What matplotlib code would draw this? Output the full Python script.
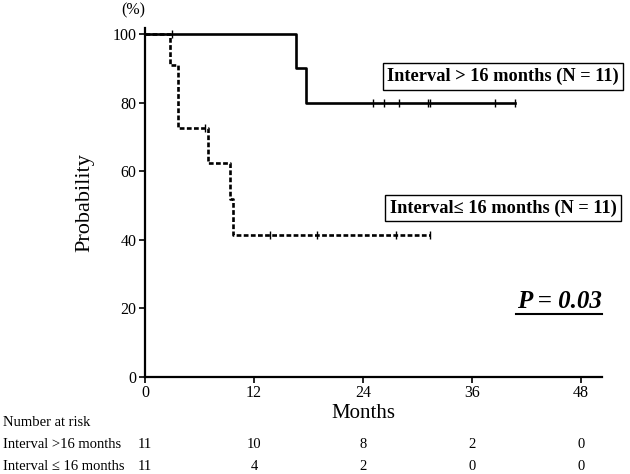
import matplotlib
matplotlib.use("Agg")
import matplotlib.pyplot as plt
import matplotlib.transforms as mtransforms

plt.rcParams['font.family'] = ['Liberation Serif', 'DejaVu Serif']

# Data
long_times = [0, 16.6, 17.7, 40.7]
long_surv = [100, 90, 80, 80]
long_cens_t = [25.1, 26.3, 28.0, 31.2, 31.4, 38.5, 40.7]
long_cens_y = [80, 80, 80, 80, 80, 80, 80]

short_times = [0, 2.8, 3.6, 6.9, 9.4, 9.7, 31.4]
short_surv = [100, 90.9, 72.7, 62.3, 51.9, 41.5, 41.5]
short_cens_t = [3.0, 6.6, 13.8, 18.9, 27.6, 31.4]
short_cens_y = [100, 72.7, 41.5, 41.5, 41.5, 41.5]

xticks = [0, 12, 24, 36, 48]
yticks = [0, 20, 40, 60, 80, 100]
risk_rows = ["Interval >16 months", "Interval \u2264 16 months"]
risk_long = [11, 10, 8, 2, 0]
risk_short = [11, 4, 2, 0, 0]

W, H = 630, 474
fig = plt.figure(figsize=(6.3, 4.74), dpi=100)
ax = fig.add_axes([145 / W, 1 - 376.7 / H, (601.7 - 145) / W, (376.7 - 28) / H])
ax.set_xlim(0, 50.3)
ax.set_ylim(0, 101.8)

ax.plot(long_times, long_surv, drawstyle='steps-post', color='black', lw=1.9)
ax.plot(short_times, short_surv, drawstyle='steps-post', color='black', lw=1.9,
        linestyle=(0, (1.8, 0.9)))
ax.plot(long_cens_t, long_cens_y, linestyle='none', marker='|', color='black', ms=5.5, mew=1.0)
ax.plot(short_cens_t, short_cens_y, linestyle='none', marker='|', color='black', ms=5.5, mew=1.0)

for s in ['top', 'right']:
    ax.spines[s].set_visible(False)
for s in ['left', 'bottom']:
    ax.spines[s].set_linewidth(1.6)
ax.set_xticks(xticks)
ax.set_yticks(yticks)
ax.tick_params(direction='out', length=4, width=1.2, labelsize=11.5, pad=2)

fig.text(85 / W, 1 - 203 / H, "Probability", rotation=90, ha='center', va='center', fontsize=16)
fig.text(133 / W, 1 - 10 / H, "(%)", ha='center', va='center', fontsize=11.5)

trans = mtransforms.blended_transform_factory(ax.transData, fig.transFigure)
ax.text(24, 1 - 413 / H, "Months", transform=trans, ha='center', va='center', fontsize=15)

fig.text(3 / W, 1 - 423 / H, "Number at risk", ha='left', va='center', fontsize=10.5)
for row_y, label, vals in [(445, risk_rows[0], risk_long), (466, risk_rows[1], risk_short)]:
    fig.text(3 / W, 1 - row_y / H, label, ha='left', va='center', fontsize=10.5)
    for xt, v in zip(xticks, vals):
        ax.text(xt, 1 - row_y / H, str(v), transform=trans, ha='center', va='center', fontsize=10.5)

box = dict(boxstyle='square,pad=0.25', facecolor='white', edgecolor='black', lw=1.0)
fig.text(503 / W, 1 - 76.5 / H, "Interval > 16 months (N = 11)", ha='center', va='center',
         fontsize=13.2, fontweight='bold', bbox=box)
fig.text(503 / W, 1 - 208 / H, "Interval\u2264 16 months (N = 11)", ha='center', va='center',
         fontsize=13.2, fontweight='bold', bbox=box)

fig.text(559 / W, 1 - 302 / H, "P = 0.03", ha='center', va='center',
         fontsize=18, fontweight='bold', fontstyle='italic')
fig.add_artist(plt.Line2D([516 / W, 602 / W], [1 - 313.5 / H, 1 - 313.5 / H], color='black', lw=1.5))

fig.savefig("out.png", dpi=100)
